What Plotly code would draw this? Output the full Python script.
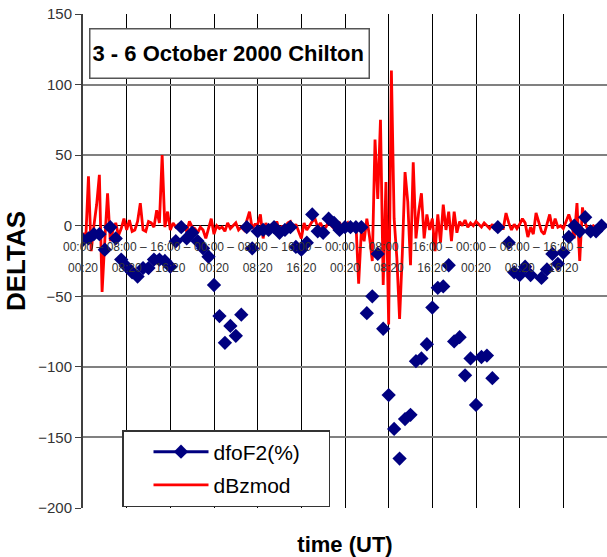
import plotly.graph_objects as go

# dfoF2 (%) hourly values, 3-6 October 2000 (hour index 0..95); None = no value
hours = list(range(96))
dfoF2 = [
    -10, -9, -6, -6, -17, -1, -9, -24,
    -29, -33, -36, -30, -30, -24, -24, -25,
    -29, -11, -1, -9, -5, -11, -16, -22,
    -42, -64, -83, -71, -78, -63, -1, -16,
    -4, -3, -3, -1, -5, -3, -1, -15,
    -17, -12, 8, -4, -5, 5, 2, -3,
    -1, -1, -1, -1, -62, -50, -20, -73,
    -120, -144, -165, -137, -134, -96, -94, -84,
    -58, -44, -43, -28, -82, -79, -106, -94,
    -127, -93, -92, -108, -1, None, -12, -33,
    -35, -29, -35, None, -37, -31, -20, -27,
    -19, -8, 0, -4, 6, -4, -4, 0,
]

# dBzmod half-hourly values (time index 0, 0.5, ..., 95.5 h)
half_hours = [i * 0.5 for i in range(192)]
dBzmod = [
    # day 1 (h 0 - 31.5)
    -5, -10, 35, -18, 0, 15, 36, -47, -10, 23, -11, -3, 2, -7, -2, 5,
    -3, 4, -4, -3, 3, 16, -3, -4, 3, 2, -1, 11, 2, 50, -1, 10,
    -3, 2, -1, 1, 2, -1, -4, 3, -1, -2, -5, -1, -3, -9, -2, 5,
    -6, 0, -2, -1, -4, 2, -2, 0, 2, -3, -1, -3, 3, 10, -2, 1,
    # day 2 (h 32 - 63.5)
    1, 8, -9, 2, -3, 1, -2, 3, -4, 0, -3, 2, 3, -2, 1, -4,
    -9, 2, -3, 0, 3, 5, -1, 2, -2, -1, 3, 0, -2, 1, 2, -1,
    0, 2, -3, -1, 2, -41, -3, -11, 5, -8, -25, 61, 19, 75, -42, 31,
    -70, 110, 5, -23, -66, -20, 38, 17, -28, 45, -9, 10, 23, -9, 8, -3,
    # day 3 (h 64 - 95.5)
    5, -18, 8, -12, 15, -3, 10, -11, 10, -5, 3, 0, 4, -1, 2, 0,
    3, 1, -1, 2, 0, -2, 1, -3, 0, -2, -2, 9, 2, -3, 1, -2,
    1, 5, 2, -8, -1, -6, 9, 2, -4, -6, 2, 8, -2, 5, -1, 0,
    -2, 3, 8, 2, -9, 16, -25, 13, 2, -3, -1, 0, -2, 1, 0, 2,
]

tick_hours = list(range(0, 96, 8))
tick_top = ["00:00 \u2013", "08:00 \u2013", "16:00 \u2013"] * 4
tick_bottom = ["00:20", "08:20", "16:20"] * 4

# dfoF2 exists only hourly on the half-hour grid -> isolated points (no joining line)
fx, fy = [], []
for h, v in zip(hours, dfoF2):
    fx += [h, h + 0.5]
    fy += [v, None]

fig = go.Figure()
fig.add_trace(go.Scatter(
    x=half_hours, y=dBzmod, mode="lines", name="dBzmod\u00a0\u00a0\u00a0\u00a0\u00a0",
    line=dict(color="#FF0000", width=2.8), legendgroup="b", legendrank=2,
    xaxis="x", yaxis="y",
))
fig.add_trace(go.Scatter(
    x=fx, y=fy, mode="lines+markers", name="dfoF2(%)\u00a0\u00a0\u00a0\u00a0",
    line=dict(color="#000080", width=3), connectgaps=False,
    marker=dict(symbol="diamond", size=11, color="#000080"), legendgroup="a", legendrank=1,
    xaxis="x2", yaxis="y",
))

font_family = "Liberation Sans, Arial, sans-serif"
y0_pos = 200 / 350.0

fig.update_layout(
    width=607, height=557,
    margin=dict(l=83, r=0, t=14, b=49),
    paper_bgcolor="white", plot_bgcolor="white",
    font=dict(family=font_family, color="#000"),
    showlegend=True,
    xaxis=dict(
        anchor="free", position=y0_pos, side="bottom",
        range=[0, 96], tickvals=tick_hours, ticktext=tick_top, ticks="",
        tickfont=dict(size=12, color="#333"), ticklabelstandoff=12,
        showgrid=True, gridcolor="#000", gridwidth=1, zeroline=False, showline=False,
        title=dict(text="<b>time (UT)</b>", font=dict(size=22, color="#000"), standoff=283),
        automargin=False,
    ),
    xaxis2=dict(
        overlaying="x", anchor="free", position=y0_pos, side="bottom",
        range=[0, 96], tickvals=tick_hours, ticktext=tick_bottom,
        showgrid=False, zeroline=False, showline=False, ticks="",
        tickfont=dict(size=12, color="#333"), ticklabelstandoff=33, automargin=False,
    ),
    yaxis=dict(
        range=[-200, 150], dtick=50, tick0=0,
        showgrid=True, gridcolor="#808080", gridwidth=1.5,
        zeroline=True, zerolinecolor="#000", zerolinewidth=1,
        showline=True, linecolor="#404040", linewidth=2,
        ticks="outside", ticklen=6, tickcolor="#404040",
        tickfont=dict(size=15, color="#333"),
        title=dict(text="<b>DELTAS</b>", font=dict(size=26, color="#000"), standoff=5),
        automargin=False,
    ),
    legend=dict(
        x=(122 - 83) / 524.0, y=(508 - 430) / 494.0, xanchor="left", yanchor="top",
        bgcolor="white", bordercolor="#333", borderwidth=1.5,
        font=dict(size=21, color="#000"), itemwidth=55, indentation=25,
        traceorder="grouped", tracegroupgap=3,
    ),
    annotations=[dict(
        text="<b>3 - 6 October 2000 Chilton</b>", xref="paper", yref="paper",
        x=(89 - 83) / 524.0, y=(508 - 28) / 494.0, xanchor="left", yanchor="top",
        showarrow=False, font=dict(size=22, color="#000"), align="left",
        bgcolor="white", bordercolor="#555", borderwidth=1.5, borderpad=2,
        width=274, height=44,
    )],
)

fig.write_html("out.html", post_script="document.body.style.margin='0';",
               config={"displayModeBar": False})
